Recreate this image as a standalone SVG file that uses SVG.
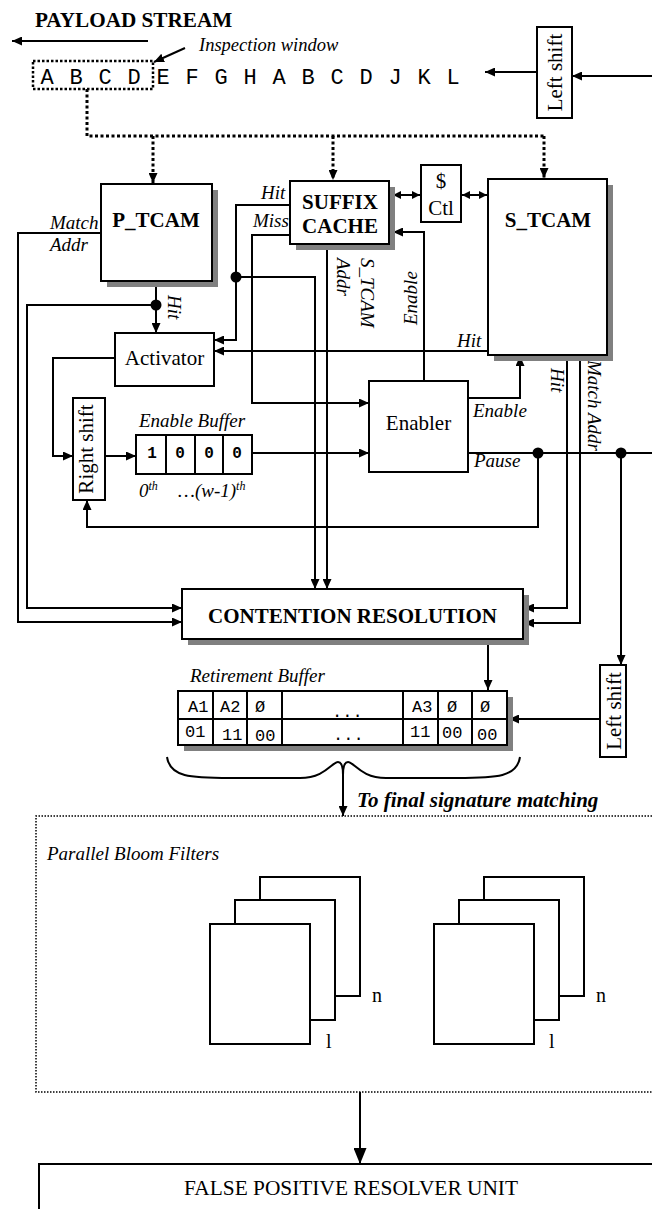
<svg xmlns="http://www.w3.org/2000/svg" width="652" height="1209" viewBox="0 0 652 1209">
<defs>
<style>
.ln{stroke:#000;stroke-width:2;fill:none}
.dt{stroke:#000;stroke-width:3;fill:none;stroke-dasharray:3 2.5}
.box{fill:#fff;stroke:#000;stroke-width:2}
.sh{fill:#808080}
.b{font-family:"Liberation Serif","Times New Roman",serif;font-weight:bold;font-size:21px}
.r{font-family:"Liberation Serif","Times New Roman",serif;font-size:21px}
.i{font-family:"Liberation Serif","Times New Roman",serif;font-style:italic;font-size:19px}
.m{font-family:"Liberation Mono","Courier New",monospace}
.c{text-anchor:middle}
</style>
<marker id="ah" markerUnits="userSpaceOnUse" markerWidth="10" markerHeight="9" refX="10" refY="4.5" orient="auto"><path d="M0,0 L10,4.5 L0,9 z" fill="#000"/></marker>
<marker id="as" markerUnits="userSpaceOnUse" markerWidth="8" markerHeight="8" refX="8" refY="4" orient="auto-start-reverse"><path d="M0,0 L8,4 L0,8 z" fill="#000"/></marker>
<marker id="ab" markerUnits="userSpaceOnUse" markerWidth="16" markerHeight="13" refX="16" refY="6.5" orient="auto"><path d="M0,0 L16,6.5 L0,13 z" fill="#000"/></marker>
</defs>
<rect width="652" height="1209" fill="#fff"/>

<g id="stream">
<text class="b" x="35" y="27" style="font-size:21.2px">PAYLOAD STREAM</text>
<text class="i" x="199" y="51" style="font-size:18.5px">Inspection window</text>
<rect x="33" y="61" width="120" height="28" fill="none" stroke="#000" stroke-width="2.5" stroke-dasharray="2.5 2"/>
<text class="m c" y="84" style="font-size:22px" x="47 76 105 134 163 192 221 250 279 308 337 366 395 424 453">ABCDEFGHABCDJKL</text>
</g>

<g id="connectors">
<path class="ln" d="M148,41 H12" marker-end="url(#ah)"/>
<path class="ln" d="M185,48 L154,62" marker-end="url(#ah)"/>
<path class="ln" d="M537,72 H485" marker-end="url(#ah)"/>
<path class="ln" d="M652,76 H572" marker-end="url(#ah)"/>
<path class="dt" d="M87,89 V136 H544"/>
<path class="dt" d="M153,136 V183" marker-end="url(#ah)"/>
<path class="dt" d="M333,136 V180" marker-end="url(#ah)"/>
<path class="dt" d="M544,136 V178" marker-end="url(#ah)"/>
<path class="ln" d="M101,233 H18 V622 H182" marker-end="url(#ah)"/>
<path class="ln" d="M156,281 V333" marker-end="url(#ah)"/>
<path class="ln" d="M156,305 H27 V608 H182" marker-end="url(#ah)"/>
<path class="ln" d="M290,205 H236 V340 H214" marker-end="url(#ah)"/>
<path class="ln" d="M236,277 H315 V589" marker-end="url(#ah)"/>
<path class="ln" d="M327,250 V589" marker-end="url(#ah)"/>
<path class="ln" d="M290,235 H252 V403 H369" marker-end="url(#ah)"/>
<path class="ln" d="M424,381 V232 H393" marker-end="url(#ah)"/>
<path class="ln" d="M488,351 H214" marker-end="url(#ah)"/>
<path class="ln" d="M468,398 H520 V356" marker-end="url(#ah)"/>
<path class="ln" d="M115,358 H53 V456 H73" marker-end="url(#ah)"/>
<path class="ln" d="M105,456 H136" marker-end="url(#ah)"/>
<path class="ln" d="M252,453 H369" marker-end="url(#ah)"/>
<path class="ln" d="M468,453 H652"/>
<path class="ln" d="M538,453 V527 H87 V500" marker-end="url(#ah)"/>
<path class="ln" d="M621,453 V665" marker-end="url(#ah)"/>
<path class="ln" d="M601,719 H509" marker-end="url(#ah)"/>
<path class="ln" d="M567,361 V608 H524" marker-end="url(#ah)"/>
<path class="ln" d="M580,361 V623 H524" marker-end="url(#ah)"/>
<path class="ln" d="M488,645 V690" marker-end="url(#ah)"/>
<path class="ln" d="M393,195 H420" marker-start="url(#as)" marker-end="url(#as)"/>
<path class="ln" d="M462,195 H487" marker-start="url(#as)" marker-end="url(#as)"/>
<path class="ln" d="M167,757 C170,777 190,778 230,778 L300,778 C325,778 332,762 338,762 C342,762 343,770 343,775"/>
<path class="ln" d="M520,757 C517,777 497,778 457,778 L386,778 C361,778 354,762 348,762 C344,762 343,770 343,775"/>
<path class="ln" d="M343,775 V816" marker-end="url(#ah)"/>
<path class="ln" d="M360,1092 V1164" marker-end="url(#ab)"/>
<circle cx="156" cy="305" r="5.5"/>
<circle cx="236" cy="277" r="5.5"/>
<circle cx="538" cy="453" r="5.5"/>
<circle cx="621" cy="453" r="5.5"/>
<text class="i" x="50" y="229">Match</text>
<text class="i" x="50" y="251">Addr</text>
<text class="i" transform="translate(168,295) rotate(90)">Hit</text>
<text class="i" x="261" y="199">Hit</text>
<text class="i" x="253" y="227">Miss</text>
<text class="i" transform="translate(361,258) rotate(90)">S_TCAM</text>
<text class="i" transform="translate(337,258) rotate(90)">Addr</text>
<text class="i" transform="translate(417,325) rotate(-90)">Enable</text>
<text class="i" x="457" y="347">Hit</text>
<text class="i" x="473" y="417">Enable</text>
<text class="i" x="474" y="467">Pause</text>
<text class="i" transform="translate(551,368) rotate(90)">Hit</text>
<text class="i" transform="translate(588,360) rotate(90)">Match Addr</text>
<text class="b" x="357" y="807" style="font-style:italic;font-size:21px">To final signature matching</text>
</g>

<g id="left-shift-top">
<rect class="box" x="537" y="27" width="35" height="91"/>
<text class="r c" transform="translate(562,72.5) rotate(-90)">Left shift</text>
</g>

<g id="p-tcam">
<rect class="sh" x="107" y="190" width="111" height="97"/>
<rect class="box" x="101" y="184" width="111" height="97"/>
<text class="b c" x="156" y="227">P_TCAM</text>
</g>

<g id="suffix-cache">
<rect class="sh" x="296" y="187" width="99" height="63"/>
<rect class="box" x="290" y="181" width="99" height="63"/>
<text class="b c" x="340" y="209">SUFFIX</text>
<text class="b c" x="340" y="233">CACHE</text>
</g>

<g id="ctl">
<rect class="box" x="421" y="165" width="40" height="57"/>
<text class="r c" x="441" y="188">$</text>
<text class="r c" x="441" y="215">Ctl</text>
</g>

<g id="s-tcam">
<rect class="sh" x="494" y="185" width="119" height="176"/>
<rect class="box" x="488" y="179" width="119" height="176"/>
<text class="b c" x="548" y="227">S_TCAM</text>
</g>

<g id="activator">
<rect class="box" x="115" y="333" width="99" height="53"/>
<text class="r c" x="164.5" y="365">Activator</text>
</g>

<g id="enabler">
<rect class="box" x="369" y="381" width="99" height="91"/>
<text class="r c" x="418.5" y="430">Enabler</text>
</g>

<g id="right-shift">
<rect class="box" x="73" y="398" width="32" height="102"/>
<text class="r c" transform="translate(93,449) rotate(-90)">Right shift</text>
</g>

<g id="enable-buffer">
<text class="i" x="139" y="427">Enable Buffer</text>
<rect class="box" x="136" y="435" width="116" height="39"/>
<path class="ln" d="M166,435 V474 M195,435 V474 M223,435 V474"/>
<text class="m c" y="458" style="font-size:16px;font-weight:bold" x="152 180 209 237">1000</text>
<text class="i" x="139" y="497">0<tspan dy="-7" style="font-size:12px">th</tspan></text>
<text class="i" x="178" y="497">…(w-1)<tspan dy="-7" style="font-size:12px">th</tspan></text>
</g>

<g id="contention">
<rect class="sh" x="188" y="595" width="341" height="50"/>
<rect class="box" x="182" y="589" width="341" height="50"/>
<text class="b c" x="352.5" y="623">CONTENTION RESOLUTION</text>
</g>

<g id="retirement-buffer">
<text class="i" x="190" y="682">Retirement Buffer</text>
<rect class="sh" x="184" y="697" width="329" height="54"/>
<rect class="box" x="178" y="691" width="329" height="54"/>
<path class="ln" d="M178,719 H507 M213,691 V745 M247,691 V745 M282,691 V745 M403,691 V745 M438,691 V745 M472,691 V745"/>
<g class="m" style="font-size:17px">
<text x="188" y="712">A1</text><text x="220" y="712">A2</text><text x="255" y="712">Ø</text>
<text x="332" y="717">...</text>
<text x="412" y="712">A3</text><text x="447" y="712">Ø</text><text x="480" y="712">Ø</text>
<text x="185" y="737">01</text><text x="222" y="740">11</text><text x="255" y="741">00</text>
<text x="333" y="740">...</text>
<text x="410" y="737">11</text><text x="442" y="738">00</text><text x="477" y="740">00</text>
</g>
</g>

<g id="left-shift-bottom">
<rect class="box" x="600" y="665" width="26" height="92"/>
<text class="r c" transform="translate(621,711) rotate(-90)">Left shift</text>
</g>

<g id="bloom-filters">
<path d="M652,816 H36 V1092 H652" fill="none" stroke="#000" stroke-width="1.5" stroke-dasharray="1.5 1.5"/>
<text class="i" x="47" y="860">Parallel Bloom Filters</text>
<g id="bloom-left">
<polyline class="ln" points="260,900 260,877 360,877 360,996 335,996"/>
<polyline class="ln" points="235,924 235,900 335,900 335,1020 310,1020"/>
<rect class="box" x="210" y="924" width="100" height="120"/>
<text class="r" x="372" y="1002" style="font-size:20px">n</text>
<text class="r" x="326" y="1048" style="font-size:20px">l</text>
</g>
<g id="bloom-right">
<polyline class="ln" points="484,900 484,877 584,877 584,996 559,996"/>
<polyline class="ln" points="459,924 459,900 559,900 559,1020 534,1020"/>
<rect class="box" x="434" y="924" width="100" height="120"/>
<text class="r" x="596" y="1002" style="font-size:20px">n</text>
<text class="r" x="549" y="1048" style="font-size:20px">l</text>
</g>
</g>

<g id="fpru">
<rect class="box" x="39" y="1164" width="640" height="60"/>
<text class="r c" x="351" y="1195" style="font-size:20.5px" textLength="334" lengthAdjust="spacingAndGlyphs">FALSE POSITIVE RESOLVER UNIT</text>
</g>
</svg>
